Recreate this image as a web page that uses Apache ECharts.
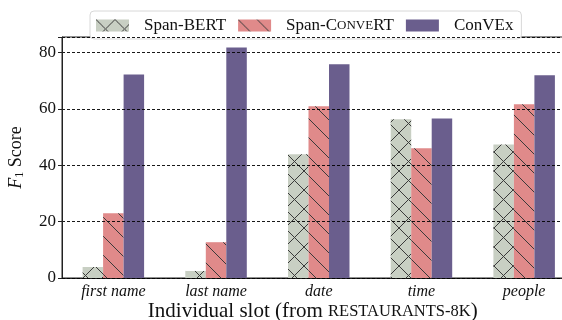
<!DOCTYPE html>
<html><head><meta charset="utf-8">
<script src="https://cdn.jsdelivr.net/npm/echarts@6/dist/echarts.min.js"></script>
<style>html,body{margin:0;padding:0;background:#fff}#c{width:562px;height:320px}</style>
</head><body><div id="c"></div>
<script>
const categories = ['first name', 'last name', 'date', 'time', 'people'];
const spanBert = [3.9, 2.5, 43.9, 56.3, 47.4];
const spanConvert = [23.0, 12.7, 60.9, 46.0, 61.6];
const convex = [72.2, 81.8, 75.8, 56.6, 71.9];
const yTicks = [0, 20, 40, 60, 80];

function hatch(bg, kind) {
  const s = 19;
  const c = document.createElement('canvas');
  c.width = s; c.height = s;
  const g = c.getContext('2d');
  g.fillStyle = bg; g.fillRect(0, 0, s, s);
  g.strokeStyle = '#3a3a3a'; g.lineWidth = 1;
  g.beginPath();
  g.moveTo(-1, -1); g.lineTo(s + 1, s + 1);
  if (kind === 'x') { g.moveTo(s + 1, -1); g.lineTo(-1, s + 1); }
  g.stroke();
  return { image: c, repeat: 'repeat' };
}
const serif = 'Liberation Serif';
const chart = echarts.init(document.getElementById('c'), null, { renderer: 'canvas' });
chart.setOption({
  animation: false,
  textStyle: { fontFamily: serif },
  grid: { left: 62, top: 37, width: 513.5, bottom: 42, show: true, borderColor: '#222', borderWidth: 1,
    containLabel: false, outerBoundsMode: 'none' },
  legend: {
    left: 90, top: 11, padding: [6, 8, 5, 6], itemGap: 12, itemWidth: 33, itemHeight: 12,
    backgroundColor: '#fff', borderColor: '#d8d8d8', borderWidth: 1, borderRadius: 4,
    icon: 'rect',
    textStyle: { fontFamily: serif, fontSize: 17, color: '#111', padding: [0, 0, 0, 10],
      rich: { sc: { fontFamily: serif, fontSize: 13, color: '#111' } } },
    formatter: function (n) { return n === 'Span-ConVeRT' ? 'Span-C{sc|ONVE}RT' : n; }
  },
  xAxis: {
    type: 'category', data: categories,
    axisLine: { lineStyle: { color: '#222', width: 1 } },
    axisTick: { alignWithLabel: true, length: 4, lineStyle: { color: '#222' } },
    axisLabel: { fontFamily: serif, fontStyle: 'italic', fontSize: 16, color: '#111', margin: 6 },
    name: 'Individual slot (from {sc|RESTAURANTS-8K})', nameLocation: 'middle', nameGap: 23,
    nameMoveOverlap: false,
    nameTextStyle: { fontFamily: serif, fontSize: 21, color: '#111', padding: [0, 12, 0, 0],
      rich: { sc: { fontFamily: serif, fontSize: 16.5, color: '#111' } } }
  },
  yAxis: {
    type: 'value', min: 0, max: 85.5, interval: 20, z: 10,
    axisLine: { show: true, lineStyle: { color: '#222', width: 1 } },
    axisTick: { show: true, length: 4, lineStyle: { color: '#222' } },
    axisLabel: { fontFamily: serif, fontSize: 17, color: '#111', margin: 6,
      formatter: function (v) { return yTicks.indexOf(v) >= 0 ? String(v) : ''; } },
    splitLine: { show: true, lineStyle: { color: '#000', width: 0.9, type: [3, 2] } },
    name: '{i|F}{sub|1} Score', nameLocation: 'middle', nameGap: 36, nameRotate: 90,
    nameMoveOverlap: false,
    nameTextStyle: { fontFamily: serif, fontSize: 18, color: '#111',
      rich: { i: { fontFamily: serif, fontStyle: 'italic', fontSize: 18, color: '#111' },
              sub: { fontFamily: serif, fontSize: 12, color: '#111', verticalAlign: 'bottom', padding: [8, 0, 0, 0] } } }
  },
  series: [
    { name: 'Span-BERT', type: 'bar', data: spanBert, barWidth: 20.5, barGap: '0%',
      itemStyle: { color: hatch('#c8cfc3', 'x') } },
    { name: 'Span-ConVeRT', type: 'bar', data: spanConvert, barWidth: 20.5, barGap: '0%',
      itemStyle: { color: hatch('#e08a8a', '\\') } },
    { name: 'ConVEx', type: 'bar', data: convex, barWidth: 20.5, barGap: '0%',
      itemStyle: { color: '#6a5e8d' } }
  ]
});
</script></body></html>
